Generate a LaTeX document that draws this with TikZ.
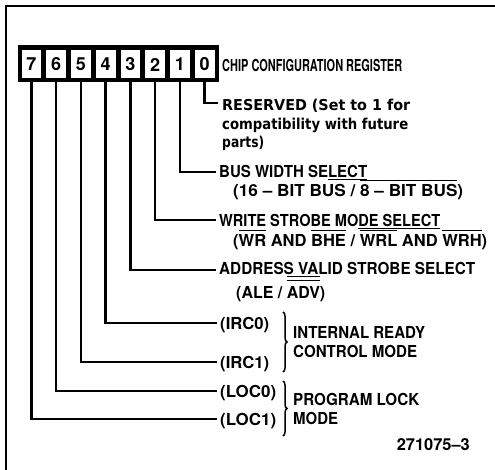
\documentclass[tikz,border=0pt]{standalone}
\usepackage{fontspec}
\setmainfont{TeX Gyre Heros}
\newfontfamily\lowf{DejaVu Sans}
\usetikzlibrary{decorations.pathreplacing}
\newcommand\lbl{\bfseries\fontsize{16.5}{19}\selectfont}
\newcommand\lwr{\lowf\bfseries\fontsize{15}{18}\selectfont}
\newcommand\dgt{\bfseries\fontsize{18}{20}\selectfont}
\newcommand\fitw[2]{\resizebox{#1pt}{\height}{#2}}
\newcommand\ob[1]{\setbox0\hbox{#1}\rlap{\rule[15.5pt]{\wd0}{1.3pt}}\box0\relax}
\newcommand\obb[1]{\setbox0\hbox{#1}\rlap{\rule[17pt]{\wd0}{1.3pt}}\rlap{\rule[21pt]{\wd0}{1.3pt}}\box0\relax}
\newcommand\ul[1]{\setbox0\hbox{#1}\rlap{\rule[-2.2pt]{\wd0}{1.3pt}}\box0\relax}
\begin{document}
\begin{tikzpicture}[x=1pt,y=-1pt,
  lab/.style={anchor=base west, inner sep=0pt, font=\lbl},
  lowlab/.style={anchor=base west, inner sep=0pt, font=\lwr},
  lead/.style={line width=2.6pt},
  cellbox/.style={fill=white, minimum width=19.75pt, minimum height=28pt, inner sep=0pt, font=\dgt},
  bracebar/.style={line width=1.5pt, decorate, decoration={brace, amplitude=4pt}}]
\useasboundingbox (0,0) rectangle (495,470);
\draw[line width=2pt] (6,470) -- (6,6) -- (495,6);
% register
\fill (19,47) rectangle (217,81);
\foreach \k in {0,...,7}
  \node[cellbox] (c\k) at ({19+(7-\k+0.5)*24.75},64.5) {\k};
\draw[line width=3pt] (19,47) rectangle (217,81);
\node[lab] (title) at (222,72) {\fitw{180}{CHIP CONFIGURATION REGISTER}};
% bit 0
\coordinate (e0) at (218,103);
\draw[lead] (c0.south) |- (e0);
\node[lowlab] (t0a) at (222,111) {\fitw{188}{RESERVED (Set to 1 for}};
\node[lowlab] (t0b) at (222,130) {\fitw{186}{compatibility with future}};
\node[lowlab] (t0c) at (222,148) {\fitw{42}{parts)}};
% bit 1
\coordinate (e1) at (216,172);
\draw[lead] (c1.south) |- (e1);
\node[lab] (t1a) at (219,178) {\fitw{148}{BUS WIDTH SE\ul{LECT}}};
\node[lab] (t1b) at (233,197) {\fitw{230}{(16 – BIT BUS / \ob{8 – BIT BUS})}};
% bit 2
\coordinate (e2) at (216,220);
\draw[lead] (c2.south) |- (e2);
\node[lab] (t2a) at (219,227) {\fitw{221}{WRITE STROBE MO\ul{DE SELECT}}};
\node[lab] (t2b) at (233,247) {\fitw{254}{(\ob{WR} AND \ob{BHE} / \ob{WRL} AND \ob{WRH})}};
% bit 3
\coordinate (e3) at (216,270);
\draw[lead] (c3.south) |- (e3);
\node[lab] (t3a) at (219,275) {\fitw{256}{ADDRESS VALID STROBE SELECT}};
\node[lab] (t3b) at (236,298) {\fitw{89}{(ALE / \obb{ADV})}};
% bits 4-7
\coordinate (e4) at (217,323);
\draw[lead] (c4.south) |- (e4);
\node[lab] (t4) at (220,329) {\fitw{49}{(IRC0)}};
\coordinate (e5) at (217,362);
\draw[lead] (c5.south) |- (e5);
\node[lab] (t5) at (220,368) {\fitw{49}{(IRC1)}};
\coordinate (e6) at (217,391);
\draw[lead] (c6.south) |- (e6);
\node[lab] (t6) at (220,397) {\fitw{56}{(LOC0)}};
\coordinate (e7) at (217,419);
\draw[lead] (c7.south) |- (e7);
\node[lab] (t7) at (220,425) {\fitw{56}{(LOC1)}};
% braces
\draw[bracebar] (283,312) -- (283,372);
\draw[bracebar] (283,381) -- (283,436);
\node[lab] (irc1) at (293,338) {\fitw{132}{INTERNAL READY}};
\node[lab] (irc2) at (293,357) {\fitw{124}{CONTROL MODE}};
\node[lab] (loc1) at (293,405) {\fitw{126}{PROGRAM LOCK}};
\node[lab] (loc2) at (293,424) {\fitw{45}{MODE}};
\node[lab, anchor=base east] (fig) at (470,450) {\fitw{73}{271075–3}};
\end{tikzpicture}
\end{document}
